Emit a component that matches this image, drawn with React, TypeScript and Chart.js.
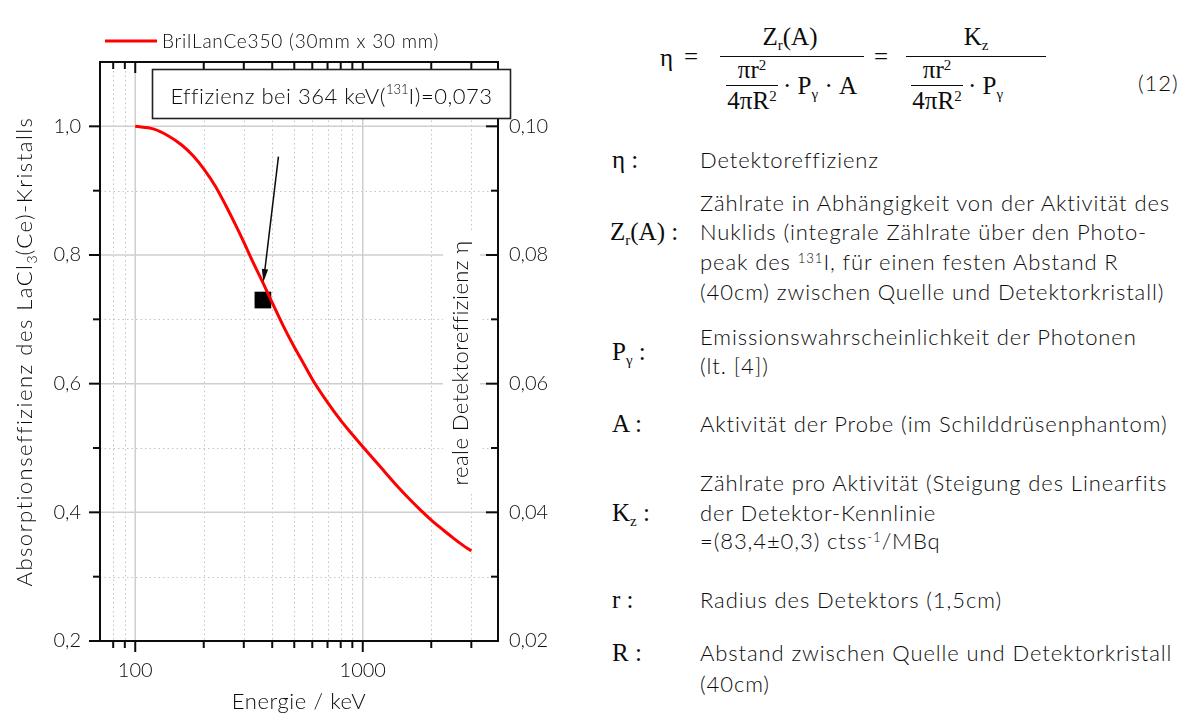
import React, { useEffect, useRef } from "react";
import { Chart, registerables } from "chart.js";

Chart.register(...registerables);

// Absorption efficiency of the LaCl3(Ce) crystal against photon energy
const energyKeV = [100, 120, 140, 160, 180, 200, 225, 250, 275, 300, 330, 364, 400, 450, 500, 550, 600, 700, 800, 900, 1000, 1200, 1400, 1600, 1800, 2000, 2250, 2500, 2750, 3000];
const absorptionEff = [1.0, 0.996, 0.985, 0.971, 0.954, 0.934, 0.907, 0.877, 0.848, 0.82, 0.788, 0.757, 0.726, 0.688, 0.657, 0.631, 0.607, 0.571, 0.543, 0.521, 0.502, 0.47, 0.443, 0.421, 0.403, 0.388, 0.373, 0.36, 0.349, 0.34];

// Measured real detector efficiency at the I-131 photo peak
const peakEnergyKeV = [364];
const peakEta = [0.073];

// Axis ticks
const xMajorTicks = [100, 1000];
const xMinorTicks = [80, 90, 200, 300, 400, 500, 600, 700, 800, 900, 2000, 3000];
const yLeftMajor = [0.2, 0.4, 0.6, 0.8, 1.0];
const yLeftMinor = [0.3, 0.5, 0.7, 0.9];
const yRightMajor = [0.02, 0.04, 0.06, 0.08, 0.1];
const yRightMinor = [0.03, 0.05, 0.07, 0.09];

const SANS = 'Lato, "Open Sans", sans-serif';
const MATH = '"Liberation Serif", "DejaVu Serif", serif';
const WEIGHT = 300;
const INK = "#0c0c0c";
const GRID = "#c4c4c4";
const RED = "#ff0000";

type Seg = { t: string; size: number; dy?: number; sp?: number };

function setFont(ctx: any, s: Seg) {
  ctx.font = `${WEIGHT} ${s.size}px ${SANS}`;
  ctx.letterSpacing = `${s.sp ?? 0}px`;
}

function segWidth(ctx: any, segs: Seg[]) {
  let w = 0;
  for (const s of segs) {
    setFont(ctx, s);
    w += ctx.measureText(s.t).width;
  }
  return w;
}

function drawSegs(ctx: any, segs: Seg[], x: number, baseline: number, align: "left" | "center") {
  let cx = align === "center" ? x - segWidth(ctx, segs) / 2 : x;
  ctx.textAlign = "left";
  ctx.textBaseline = "alphabetic";
  for (const s of segs) {
    setFont(ctx, s);
    ctx.fillText(s.t, cx, baseline + (s.dy ?? 0));
    cx += ctx.measureText(s.t).width;
  }
  ctx.letterSpacing = "0px";
}

function seg(ctx: CanvasRenderingContext2D, x1: number, y1: number, x2: number, y2: number) {
  ctx.beginPath();
  ctx.moveTo(x1, y1);
  ctx.lineTo(x2, y2);
  ctx.stroke();
}

const originFrame = {
  id: "originFrame",
  beforeDatasetsDraw(chart: any) {
    const { ctx, chartArea: a, scales } = chart;
    const sx = scales.x;
    const sy = scales.y;
    ctx.save();
    ctx.beginPath();
    ctx.rect(a.left, a.top, a.right - a.left, a.bottom - a.top);
    ctx.clip();
    ctx.lineWidth = 1;
    ctx.strokeStyle = GRID;
    ctx.setLineDash([1.5, 3]);
    for (const v of xMinorTicks) {
      const p = Math.round(sx.getPixelForValue(v)) + 0.5;
      seg(ctx, p, a.top, p, a.bottom);
    }
    for (const v of yLeftMinor) {
      const p = Math.round(sy.getPixelForValue(v)) + 0.5;
      seg(ctx, a.left, p, a.right, p);
    }
    ctx.setLineDash([]);
    ctx.strokeStyle = "#cfcfcf";
    ctx.lineWidth = 1.5;
    for (const v of xMajorTicks) {
      const p = sx.getPixelForValue(v);
      seg(ctx, p, a.top, p, a.bottom);
    }
    for (const v of yLeftMajor) {
      const p = sy.getPixelForValue(v);
      seg(ctx, a.left, p, a.right, p);
    }
    ctx.restore();

    // right axis title, set inside the frame on a white backing
    ctx.save();
    const tx = a.right - 37;
    const ty = 363;
    ctx.fillStyle = "#fff";
    ctx.fillRect(tx - 18, ty - 131, 37, 262);
    ctx.translate(tx, ty);
    ctx.rotate(-Math.PI / 2);
    ctx.fillStyle = INK;
    drawSegs(ctx, [{ t: "reale Detektoreffizienz η", size: 22, sp: 0.45 }], 0, 7, "center");
    ctx.restore();
  },
  afterDatasetsDraw(chart: any) {
    const { ctx, chartArea: a, scales } = chart;
    const sx = scales.x;
    const sy = scales.y;
    const sr = scales.yRight;
    ctx.save();
    ctx.strokeStyle = INK;
    ctx.fillStyle = INK;
    ctx.lineWidth = 2;
    ctx.lineCap = "butt";

    // frame
    ctx.strokeRect(a.left, a.top, a.right - a.left, a.bottom - a.top);

    // bottom (outward) and top (inward) ticks
    for (const v of xMajorTicks) {
      const p = sx.getPixelForValue(v);
      seg(ctx, p, a.bottom, p, a.bottom + 11);
      seg(ctx, p, a.top, p, a.top + 11);
    }
    for (const v of xMinorTicks) {
      const p = sx.getPixelForValue(v);
      seg(ctx, p, a.bottom, p, a.bottom + 7);
      seg(ctx, p, a.top, p, a.top + 7);
    }
    // left (outward) ticks
    for (const v of yLeftMajor) {
      const p = sy.getPixelForValue(v);
      seg(ctx, a.left - 11, p, a.left, p);
    }
    for (const v of yLeftMinor) {
      const p = sy.getPixelForValue(v);
      seg(ctx, a.left - 7, p, a.left, p);
    }
    // right (inward) ticks
    for (const v of yRightMajor) {
      const p = sr.getPixelForValue(v);
      seg(ctx, a.right - 12, p, a.right, p);
    }
    for (const v of yRightMinor) {
      const p = sr.getPixelForValue(v);
      seg(ctx, a.right - 7, p, a.right, p);
    }

    // tick labels
    ctx.font = `${WEIGHT} 20px ${SANS}`;
    ctx.textBaseline = "middle";
    ctx.textAlign = "right";
    for (const v of yLeftMajor) {
      ctx.fillText(v.toFixed(1).replace(".", ","), a.left - 19, sy.getPixelForValue(v));
    }
    ctx.textAlign = "left";
    for (const v of yRightMajor) {
      ctx.fillText(v.toFixed(2).replace(".", ","), a.right + 11, sr.getPixelForValue(v));
    }
    ctx.textAlign = "center";
    ctx.textBaseline = "alphabetic";
    for (const v of xMajorTicks) {
      ctx.fillText(String(v), sx.getPixelForValue(v), a.bottom + 36);
    }

    // axis titles
    drawSegs(ctx, [{ t: "Energie / keV", size: 22, sp: 0.6 }], (a.left + a.right) / 2, a.bottom + 68, "center");
    ctx.save();
    ctx.translate(24, (a.top + a.bottom) / 2);
    ctx.rotate(-Math.PI / 2);
    drawSegs(
      ctx,
      [
        { t: "Absorptionseffizienz des LaCl", size: 22, sp: 1.5 },
        { t: "3", size: 14, dy: 5 },
        { t: "(Ce)-Kristalls", size: 22, sp: 1.5 },
      ],
      0,
      8,
      "center"
    );
    ctx.restore();

    // legend
    ctx.strokeStyle = RED;
    ctx.lineWidth = 3;
    seg(ctx, 105, 41, 157, 41);
    ctx.fillStyle = INK;
    drawSegs(ctx, [{ t: "BrilLanCe350 (30mm x 30 mm)", size: 19, sp: 0.8 }], 162, 48, "left");

    // arrow pointing at the photo peak marker
    const mx = sx.getPixelForValue(peakEnergyKeV[0]);
    const my = sr.getPixelForValue(peakEta[0]);
    const tailX = sx.getPixelForValue(426);
    const tailY = sy.getPixelForValue(0.953);
    const tipX = mx + 0.5;
    const tipY = my - 18;
    const ang = Math.atan2(tipY - tailY, tipX - tailX);
    ctx.strokeStyle = INK;
    ctx.lineWidth = 1.5;
    seg(ctx, tailX, tailY, tipX - 10 * Math.cos(ang), tipY - 10 * Math.sin(ang));
    ctx.beginPath();
    ctx.moveTo(tipX, tipY);
    ctx.lineTo(tipX - 13 * Math.cos(ang) + 3.2 * Math.sin(ang), tipY - 13 * Math.sin(ang) - 3.2 * Math.cos(ang));
    ctx.lineTo(tipX - 13 * Math.cos(ang) - 3.2 * Math.sin(ang), tipY - 13 * Math.sin(ang) + 3.2 * Math.cos(ang));
    ctx.closePath();
    ctx.fill();

    // annotation box
    const bx = a.left + 52.5;
    const by = a.top + 7.5;
    const bw = 358;
    const bh = 49;
    ctx.fillStyle = "#fff";
    ctx.fillRect(bx, by, bw, bh);
    ctx.strokeStyle = "#222";
    ctx.lineWidth = 1.6;
    ctx.strokeRect(bx, by, bw, bh);
    ctx.fillStyle = INK;
    drawSegs(
      ctx,
      [
        { t: "Effizienz bei 364 keV(", size: 22, sp: 0.5 },
        { t: "131", size: 13, dy: -10 },
        { t: "I)=0,073", size: 22, sp: 0.5 },
      ],
      bx + bw / 2,
      by + 34,
      "center"
    );
    ctx.restore();
  },
};

function EfficiencyChart() {
  const ref = useRef<HTMLCanvasElement | null>(null);
  useEffect(() => {
    if (!ref.current) return;
    const chart = new Chart(ref.current, {
      type: "line",
      data: {
        datasets: [
          {
            label: "BrilLanCe350 (30mm x 30 mm)",
            data: energyKeV.map((e, i) => ({ x: e, y: absorptionEff[i] })),
            yAxisID: "y",
            borderColor: RED,
            borderWidth: 3,
            pointRadius: 0,
            cubicInterpolationMode: "monotone",
            fill: false,
          },
          {
            type: "scatter",
            label: "364 keV",
            data: peakEnergyKeV.map((e, i) => ({ x: e, y: peakEta[i] })),
            yAxisID: "yRight",
            pointStyle: "rect",
            pointRadius: 11.8,
            backgroundColor: "#000",
            borderColor: "#000",
            borderWidth: 0,
          },
        ],
      } as any,
      options: {
        animation: false,
        responsive: false,
        devicePixelRatio: 1,
        layout: { padding: { left: 100, right: 102, top: 62, bottom: 77 } },
        plugins: { legend: { display: false }, tooltip: { enabled: false } },
        scales: {
          x: { type: "logarithmic", min: 70, max: 3930, display: false },
          y: { type: "linear", min: 0.2, max: 1.1, display: false },
          yRight: { type: "linear", position: "right", min: 0.02, max: 0.11, display: false },
        },
      } as any,
      plugins: [originFrame],
    });
    return () => chart.destroy();
  }, []);
  return <canvas ref={ref} width={600} height={718} style={{ display: "block", position: "absolute", left: 0, top: 0 }} />;
}

type TProps = { x: number; y: number; center?: boolean; math?: boolean; size?: number; children: React.ReactNode };
const T = ({ x, y, center, math, size, children }: TProps) => (
  <div
    style={{
      position: "absolute",
      left: x,
      top: y,
      transform: `translate(${center ? "-50%" : "0"}, -50%)`,
      whiteSpace: "nowrap",
      fontFamily: math ? MATH : SANS,
      fontWeight: math ? 400 : WEIGHT,
      letterSpacing: math ? 0 : "0.9px",
      fontSize: size ?? (math ? 25 : 22),
      lineHeight: 1.2,
      color: INK,
    }}
  >
    {children}
  </div>
);

const Bar = ({ x1, x2, y }: { x1: number; x2: number; y: number }) => (
  <div style={{ position: "absolute", left: x1, top: y, width: x2 - x1, height: 1.3, background: INK }} />
);

const sub = (s: string) => <sub style={{ fontSize: "0.6em", verticalAlign: "-0.3em", lineHeight: 0 }}>{s}</sub>;
const sup = (s: string) => <sup style={{ fontSize: "0.6em", verticalAlign: "0.55em", lineHeight: 0 }}>{s}</sup>;

function SymbolList() {
  return (
    <>
      {/* equation (12) */}
      <T x={660} y={58} math>η</T>
      <T x={684} y={57} math>=</T>
      <T x={790} y={37} math center>Z{sub("r")}(A)</T>
      <Bar x1={720} x2={864} y={56} />
      <T x={752} y={70} math center>πr{sup("2")}</T>
      <Bar x1={726} x2={778} y={85} />
      <T x={752} y={101} math center>4πR{sup("2")}</T>
      <T x={783} y={86} math>· P{sub("γ")} · A</T>
      <T x={874} y={57} math>=</T>
      <T x={976} y={37} math center>K{sub("z")}</T>
      <Bar x1={906} x2={1046} y={56} />
      <T x={937} y={70} math center>πr{sup("2")}</T>
      <Bar x1={911} x2={963} y={85} />
      <T x={937} y={101} math center>4πR{sup("2")}</T>
      <T x={968} y={86} math>· P{sub("γ")}</T>
      <T x={1138} y={83}>(12)</T>

      {/* symbol list */}
      <T x={612} y={160} math>η :</T>
      <T x={700} y={160}>Detektoreffizienz</T>

      <T x={700} y={203}>Zählrate in Abhängigkeit von der Aktivität des</T>
      <T x={610} y={232} math>Z{sub("r")}(A) :</T>
      <T x={700} y={232}>Nuklids (integrale Zählrate über den Photo-</T>
      <T x={700} y={262}>peak des {sup("131")}I, für einen festen Abstand R</T>
      <T x={700} y={292}>(40cm) zwischen Quelle und Detektorkristall)</T>

      <T x={700} y={337}>Emissionswahrscheinlichkeit der Photonen</T>
      <T x={612} y={352} math>P{sub("γ")} :</T>
      <T x={700} y={366}>(lt. [4])</T>

      <T x={612} y={424} math>A :</T>
      <T x={700} y={424}>Aktivität der Probe (im Schilddrüsenphantom)</T>

      <T x={700} y={483}>Zählrate pro Aktivität (Steigung des Linearfits</T>
      <T x={612} y={513} math>K{sub("z")} :</T>
      <T x={700} y={513}>der Detektor-Kennlinie</T>
      <T x={700} y={541}>=(83,4±0,3) ctss{sup("-1")}/MBq</T>

      <T x={612} y={600} math>r :</T>
      <T x={700} y={600}>Radius des Detektors (1,5cm)</T>

      <T x={612} y={653} math>R :</T>
      <T x={700} y={653}>Abstand zwischen Quelle und Detektorkristall</T>
      <T x={700} y={684}>(40cm)</T>
    </>
  );
}

export default function App() {
  return (
    <div style={{ position: "fixed", left: 0, top: 0, width: 1182, height: 718, background: "#fff", overflow: "hidden" }}>
      <EfficiencyChart />
      <SymbolList />
    </div>
  );
}
